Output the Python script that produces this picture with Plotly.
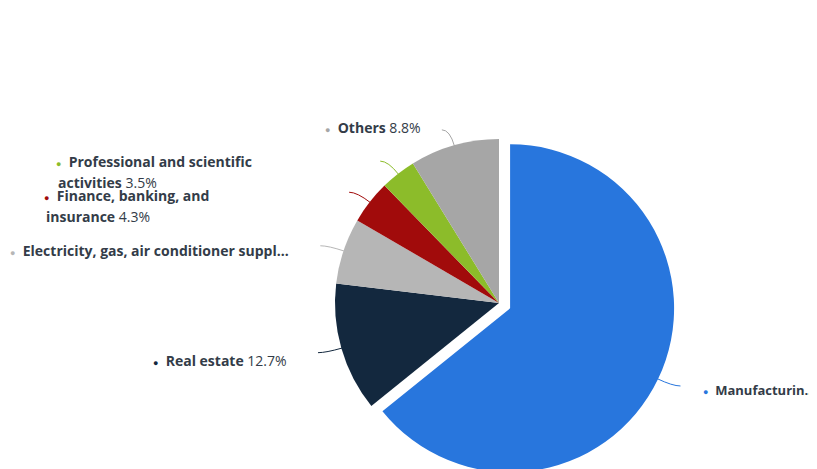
import math
import plotly.graph_objects as go

# page body has an 8px margin, so the figure starts at (8, 8) of the window
W, H = 809, 480
OFF = 8

sectors = ["Manufacturing", "Real estate", "Electricity, gas, air conditioner supply",
           "Finance, banking, and insurance", "Professional and scientific activities", "Others"]
shares = [64.2, 12.7, 6.5, 4.3, 3.5, 8.8]
label_lines = [["Manufacturin…"], ["Real estate"], ["Electricity, gas, air conditioner suppl…"],
               ["Finance, banking, and", "insurance"], ["Professional and scientific", "activities"],
               ["Others"]]
label_values = ["", "12.7%", "", "4.3%", "3.5%", "8.8%"]
colors = ["#2876dd", "#13283e", "#b6b6b6", "#a10b0b", "#8cbc2a", "#a6a6a6"]


def px(x, y):
    return (x - OFF) / W, 1 - (y - OFF) / H


# pie geometry in window pixels
cx, cy, r = 499, 303, 164
pull = 0.075
half = r * (1 + pull)
x_lo, y_hi = px(cx - half, cy - half)
x_hi, y_lo = px(cx + half, cy + half)

fig = go.Figure(go.Pie(
    labels=sectors,
    values=shares,
    sort=False,
    direction="clockwise",
    rotation=0,
    pull=[pull, 0, 0, 0, 0, 0],
    marker=dict(colors=colors, line=dict(width=0)),
    textinfo="none",
    hoverinfo="label+percent",
    showlegend=False,
    domain=dict(x=[x_lo, x_hi], y=[y_lo, y_hi]),
))

# label placement: bullet x and centre y of each line (window pixels)
label_pos = [(701, [390]), (151, [360]), (8, [250]), (42, [195, 216]), (54, [161, 183]), (323, [127])]
label_sizes = [13, 14, 14, 14, 14, 14]

annotations = []
shapes = []
total = sum(shares)
start = 0.0
for i, v in enumerate(shares):
    mid = (start + v / 2) / total * 2 * math.pi
    start += v
    dx, dy = math.sin(mid), -math.cos(mid)
    off = pull * r if i == 0 else 0
    x0, y0 = px(cx + dx * (r + off - 1), cy + dy * (r + off - 1))
    x1, y1 = px(cx + dx * (r + off + 16), cy + dy * (r + off + 16))
    x2, _ = px(cx + dx * (r + off + 16) + (8 if dx > 0 else -8), 0)
    shapes.append(dict(type="path", xref="paper", yref="paper",
                       path=f"M {x0},{y0} Q {x1},{y1} {x2},{y1}",
                       line=dict(color=colors[i], width=1)))

    lx, lys = label_pos[i]
    lines = label_lines[i]
    for j, (line, ly) in enumerate(zip(lines, lys)):
        text = f"<b>{line}</b>"
        if j == 0:
            text = f"<span style='font-size:9px;color:{colors[i]}'>●</span>&nbsp; " + text
            lx_j = lx
        else:
            lx_j = lx + 2
        if j == len(lines) - 1 and label_values[i]:
            text += f" {label_values[i]}"
        ax, ay = px(lx_j, ly)
        annotations.append(dict(x=ax, y=ay, xref="paper", yref="paper",
                                text=text, showarrow=False, xanchor="left", yanchor="middle",
                                align="left",
                                font=dict(family="Open Sans", size=label_sizes[i], color="#333c48")))

fig.update_layout(
    width=W, height=H,
    margin=dict(l=0, r=0, t=0, b=0),
    paper_bgcolor="white",
    plot_bgcolor="white",
    shapes=shapes,
    annotations=annotations,
)

fig.write_html("out.html")
